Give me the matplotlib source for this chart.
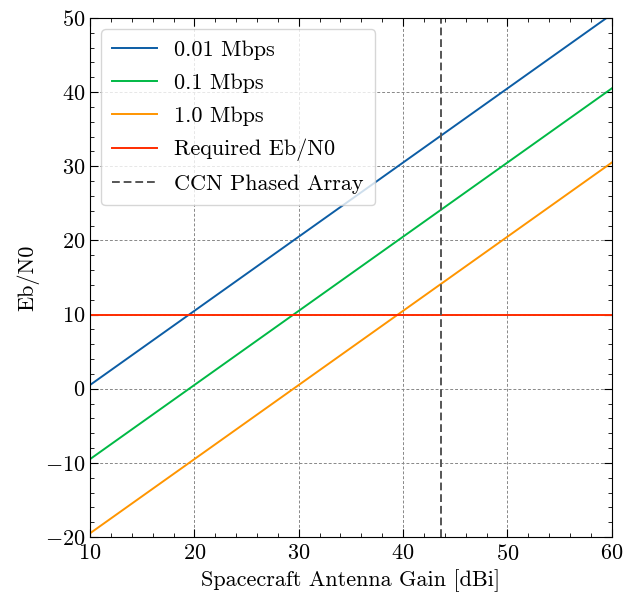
import matplotlib
matplotlib.use("Agg")
import matplotlib.pyplot as plt
from matplotlib.ticker import AutoMinorLocator

gain = [10, 60]
eb_001 = [0.5, 50.5]
eb_01 = [-9.5, 40.5]
eb_1 = [-19.5, 30.5]
required_ebn0 = 10
ccn_gain = 43.6

plt.rcParams.update({
    "font.family": "serif",
    "font.serif": ["cmr10"],
    "mathtext.fontset": "cm",
    "axes.formatter.use_mathtext": True,
    "axes.unicode_minus": True,
    "font.size": 16,
})

fig = plt.figure(figsize=(6.23, 5.99), dpi=100)
ax = fig.add_axes([0.1445, 0.1035, 0.8375, 0.8665])

ax.plot(gain, eb_001, color="#0C5DA5", lw=1.4, label="0.01 Mbps")
ax.plot(gain, eb_01, color="#00B945", lw=1.4, label="0.1 Mbps")
ax.plot(gain, eb_1, color="#FF9500", lw=1.4, label="1.0 Mbps")
ax.axhline(required_ebn0, color="#FF2C00", lw=1.4, label="Required Eb/N0")
ax.axvline(ccn_gain, color="#555555", lw=1.4, ls=(0, (4, 2)), label="CCN Phased Array")

ax.set_xlim(10, 60)
ax.set_ylim(-20, 50)
ax.set_xticks([10, 20, 30, 40, 50, 60])
ax.set_yticks([-20, -10, 0, 10, 20, 30, 40, 50])
ax.xaxis.set_minor_locator(AutoMinorLocator(5))
ax.yaxis.set_minor_locator(AutoMinorLocator(5))
ax.tick_params(which="both", direction="in", top=True, right=True)
ax.tick_params(which="major", length=6, width=0.8, labelsize=16)
ax.tick_params(which="minor", length=3, width=0.6)
ax.tick_params(axis="x", which="major", pad=5)
ax.grid(True, which="major", color="#888888", lw=0.7, ls=(0, (3, 2)))
ax.set_axisbelow(True)

ax.set_xlabel("Spacecraft Antenna Gain [dBi]", fontsize=16)
ax.set_ylabel("Eb/N0", fontsize=16)

leg = ax.legend(loc="upper left", fontsize=16, frameon=True, fancybox=True,
                framealpha=0.8, edgecolor="#cccccc", handlelength=2.0,
                borderpad=0.5, labelspacing=0.6)

fig.savefig("out.png", dpi=100)
